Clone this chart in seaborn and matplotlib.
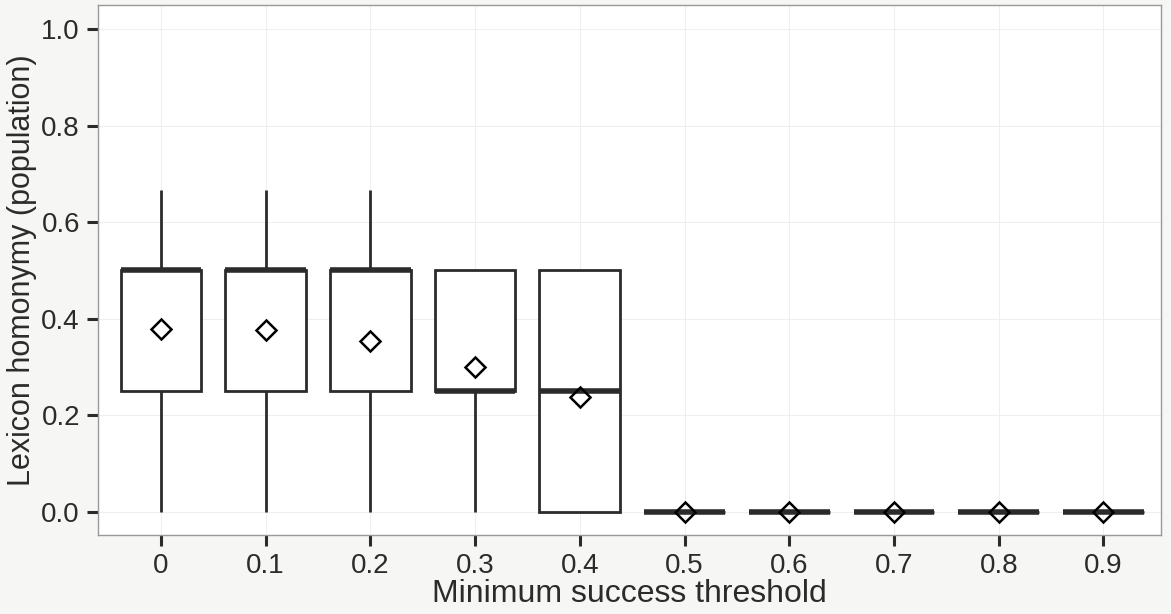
import numpy as np
import pandas as pd
import matplotlib
matplotlib.use("Agg")
import matplotlib.pyplot as plt
import seaborn as sns

# ─── Data ─────────────────────────────────────────────────────────────────────
# homonymy values seen in the runs, and how many runs gave each value
THRESHOLDS = ["0", "0.1", "0.2", "0.3", "0.4", "0.5", "0.6", "0.7", "0.8", "0.9"]
VALUES     = [0.0, 0.25, 0.5, 0.625, 0.667]
COUNTS = {
    "0":   [2, 7, 9, 0, 2],
    "0.1": [2, 7, 9, 1, 1],
    "0.2": [4, 5, 9, 0, 2],
    "0.3": [3, 10, 7, 0, 0],
    "0.4": [7, 7, 6, 0, 0],
    "0.5": [20, 0, 0, 0, 0],
    "0.6": [20, 0, 0, 0, 0],
    "0.7": [20, 0, 0, 0, 0],
    "0.8": [20, 0, 0, 0, 0],
    "0.9": [20, 0, 0, 0, 0],
}
YTICKS = [0.0, 0.2, 0.4, 0.6, 0.8, 1.0]

rows = []
for t in THRESHOLDS:
    for v, n in zip(VALUES, COUNTS[t]):
        rows += [(t, v)] * n
df = pd.DataFrame(rows, columns=["threshold", "homonymy"])

# ─── Plot ─────────────────────────────────────────────────────────────────────
sns.set_style("white")
plt.rcParams["font.family"] = ["Liberation Sans", "DejaVu Sans"]

INK = "#2b2b2b"
fig, ax = plt.subplots(figsize=(11.71, 6.14), dpi=100)
fig.patch.set_facecolor("#f6f6f4")
ax.set_facecolor("white")

sns.boxplot(
    data=df, x="threshold", y="homonymy", order=THRESHOLDS, ax=ax,
    width=0.77, color="white", linecolor=INK, linewidth=2.0,
    showfliers=False, showcaps=False,
    showmeans=True,
    meanprops=dict(marker="D", markerfacecolor="none", markeredgecolor="black",
                   markeredgewidth=1.8, markersize=10),
    medianprops=dict(color=INK, linewidth=4.0),
    boxprops=dict(edgecolor=INK, linewidth=2.0),
    whiskerprops=dict(color=INK, linewidth=2.0),
)

ax.set_xlim(-0.6, 9.55)
ax.set_ylim(-0.048, 1.05)
ax.set_yticks(YTICKS)
ax.set_yticklabels([f"{v:.1f}" for v in YTICKS])
ax.grid(True, color="#efefef", linewidth=0.8)
ax.set_axisbelow(True)
for s in ax.spines.values():
    s.set_color("#999999")
    s.set_linewidth(1.0)

ax.tick_params(axis="both", direction="out", length=8, width=2.2, color=INK,
               labelsize=20, labelcolor=INK, pad=5, left=True, bottom=True)
ax.set_xlabel("Minimum success threshold", fontsize=23, color=INK, labelpad=0)
ax.set_ylabel("Lexicon homonymy (population)", fontsize=22, color=INK, labelpad=3)

fig.subplots_adjust(left=0.0837, right=0.9915, top=0.992, bottom=0.129)
fig.savefig("out.png", dpi=100, facecolor=fig.get_facecolor())
